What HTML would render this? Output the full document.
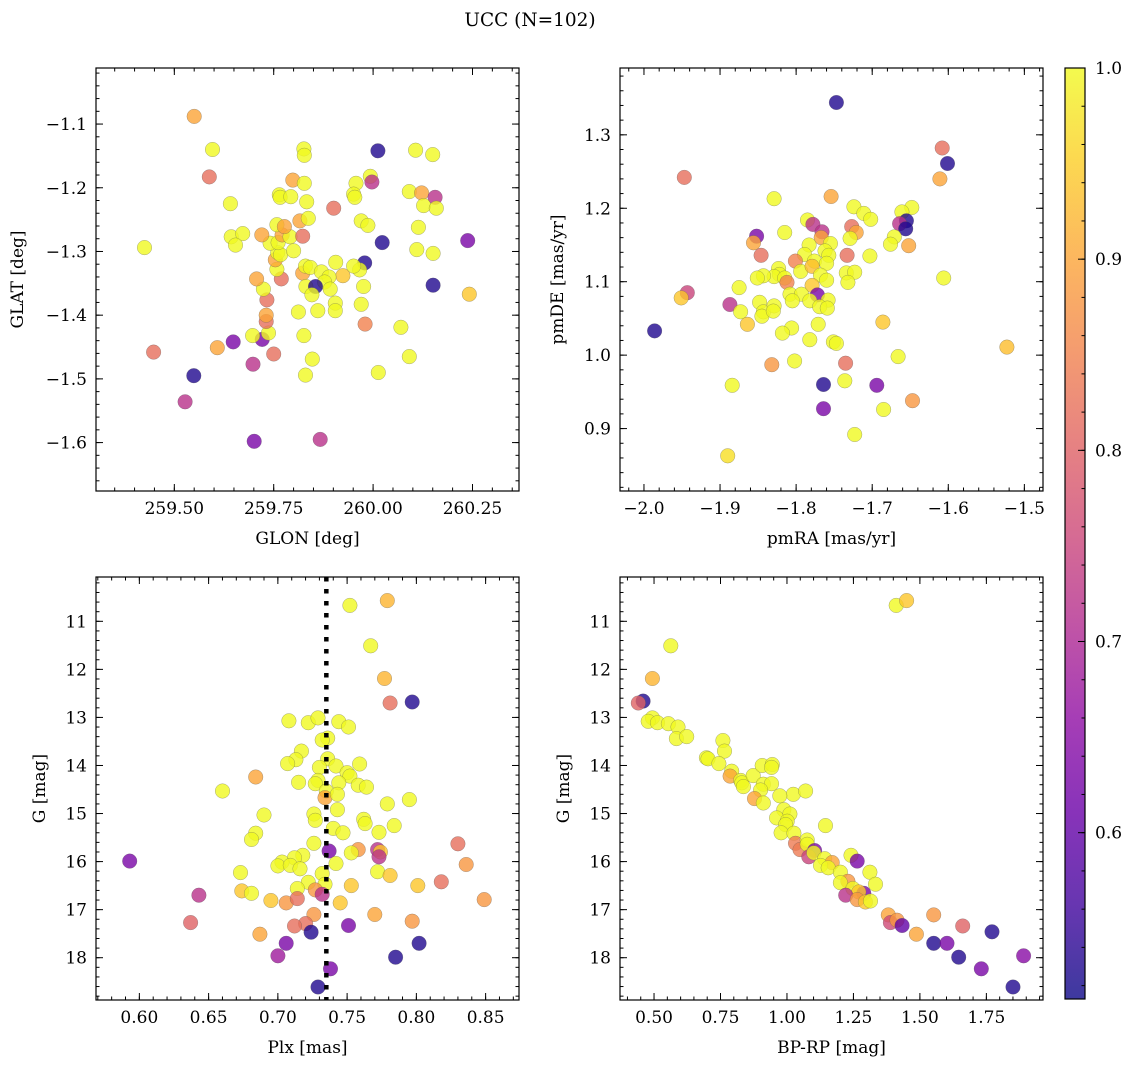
<!DOCTYPE html>
<html><head><meta charset="utf-8"><style>
html,body{margin:0;padding:0;background:#fff;}
svg{display:block;font-family:"DejaVu Serif","Liberation Serif",serif;}
</style></head><body>
<svg id="fig" width="1136" height="1067" viewBox="0 0 1136 1067" xmlns="http://www.w3.org/2000/svg">
<defs>
<linearGradient id="plasma" x1="0" y1="1" x2="0" y2="0">
<stop offset="0" stop-color="#0d0887"/><stop offset="0.1" stop-color="#41049d"/><stop offset="0.2" stop-color="#6a00a8"/><stop offset="0.3" stop-color="#8f0da4"/><stop offset="0.4" stop-color="#b12a90"/><stop offset="0.5" stop-color="#cc4778"/><stop offset="0.6" stop-color="#e16462"/><stop offset="0.7" stop-color="#f2844b"/><stop offset="0.8" stop-color="#fca636"/><stop offset="0.9" stop-color="#fcce25"/><stop offset="1" stop-color="#f0f921"/>
</linearGradient>
</defs>
<text x="530" y="26" text-anchor="middle" font-size="18.5">UCC (N=102)</text>
</svg>
<script>
// Panel 1: GLON / GLAT
const glon=[259.550,259.596,259.588,259.641,259.425,259.643,259.672,259.654,259.448,259.549,
259.527,259.648,259.608,259.701,259.867,259.698,259.750,259.721,259.697,259.737,
259.731,259.731,259.733,259.724,259.707,259.769,259.758,259.754,259.760,259.767,
259.741,259.761,259.720,259.771,259.791,259.800,259.758,259.777,259.816,259.837,
259.823,259.764,259.766,259.793,259.798,259.827,259.833,259.826,259.827,259.901,
259.957,259.951,259.954,259.993,259.997,260.012,259.970,259.987,260.023,259.979,
259.966,259.951,259.906,259.924,259.976,259.970,259.980,259.905,259.905,259.861,
259.812,259.826,259.847,259.830,260.013,260.070,260.091,259.823,259.830,259.842,
259.870,259.889,259.878,259.892,259.831,259.855,259.846,260.091,260.107,260.150,
260.122,260.156,260.127,260.159,260.114,260.110,260.151,260.151,260.238,260.242];
const glat=[-1.088,-1.140,-1.183,-1.225,-1.294,-1.277,-1.272,-1.290,-1.458,-1.495,
-1.536,-1.442,-1.451,-1.598,-1.595,-1.477,-1.461,-1.438,-1.432,-1.428,
-1.410,-1.400,-1.376,-1.359,-1.343,-1.343,-1.328,-1.313,-1.302,-1.305,
-1.287,-1.286,-1.274,-1.274,-1.277,-1.299,-1.258,-1.261,-1.252,-1.248,
-1.276,-1.211,-1.215,-1.214,-1.188,-1.193,-1.222,-1.139,-1.149,-1.232,
-1.193,-1.210,-1.215,-1.182,-1.191,-1.142,-1.252,-1.259,-1.286,-1.318,
-1.329,-1.323,-1.317,-1.338,-1.355,-1.383,-1.414,-1.381,-1.393,-1.393,
-1.395,-1.432,-1.469,-1.494,-1.490,-1.419,-1.465,-1.334,-1.323,-1.325,
-1.332,-1.340,-1.348,-1.359,-1.355,-1.355,-1.368,-1.206,-1.141,-1.148,
-1.208,-1.215,-1.228,-1.232,-1.262,-1.297,-1.303,-1.353,-1.283,-1.367];
const prob1=[.90,1,.82,1,1,1,1,1,.82,.53,
.72,.63,.90,.63,.72,.72,.82,.63,1,1,
.82,.90,.82,1,.90,.82,1,.90,1,1,
1,1,.90,.90,1,1,1,.90,.90,1,
.82,1,1,1,.90,1,1,1,1,.82,
1,1,1,1,.72,.53,1,1,.53,.53,
1,1,1,.94,1,1,.85,1,1,1,
1,1,1,1,1,1,1,.90,1,1,
1,1,1,1,1,.53,1,1,1,1,
.90,.72,1,1,1,1,1,.53,.63,.94];

// Panel 2: pmRA / pmDE
const pmra=[-1.747,-1.608,-1.601,-1.611,-1.947,-1.829,-1.754,-1.724,-1.711,-1.702,
-1.648,-1.661,-1.655,-1.664,-1.656,-1.671,-1.676,-1.652,-1.785,-1.778,
-1.766,-1.767,-1.815,-1.852,-1.856,-1.727,-1.721,-1.729,-1.783,-1.755,
-1.762,-1.757,-1.733,-1.703,-1.789,-1.846,-1.801,-1.776,-1.760,-1.794,
-1.779,-1.768,-1.760,-1.734,-1.723,-1.732,-1.823,-1.822,-1.829,-1.815,
-1.812,-1.843,-1.851,-1.779,-1.875,-1.943,-1.951,-1.808,-1.793,-1.805,
-1.772,-1.782,-1.758,-1.769,-1.759,-1.848,-1.887,-1.873,-1.843,-1.845,
-1.829,-1.830,-1.864,-1.771,-1.806,-1.818,-1.782,-1.751,-1.747,-1.686,
-1.986,-1.606,-1.523,-1.666,-1.832,-1.802,-1.735,-1.884,-1.764,-1.736,
-1.694,-1.764,-1.685,-1.647,-1.723,-1.890];
const pmde=[1.344,1.282,1.261,1.240,1.242,1.213,1.216,1.202,1.193,1.185,
1.201,1.195,1.183,1.179,1.172,1.161,1.151,1.149,1.184,1.178,
1.168,1.160,1.167,1.162,1.153,1.175,1.167,1.159,1.150,1.152,
1.142,1.136,1.136,1.135,1.137,1.136,1.128,1.128,1.125,1.114,
1.121,1.109,1.102,1.112,1.113,1.099,1.118,1.110,1.107,1.105,
1.099,1.108,1.105,1.095,1.092,1.085,1.078,1.083,1.083,1.074,
1.082,1.074,1.075,1.066,1.064,1.072,1.069,1.059,1.059,1.053,
1.067,1.060,1.042,1.042,1.037,1.030,1.021,1.018,1.016,1.045,
1.033,1.105,1.011,0.998,0.987,0.992,0.989,0.959,0.960,0.965,
0.959,0.927,0.926,0.938,0.892,0.863];
const prob2=[.53,.82,.53,.90,.82,1,.90,1,1,1,
1,1,.53,.72,.53,1,1,.90,1,.72,
.72,.90,1,.63,.90,.82,.90,1,1,1,
1,1,.82,1,1,.82,.85,1,1,1,
.93,1,1,1,1,1,1,1,1,1,
.85,1,1,.94,1,.75,.94,1,1,1,
.63,1,1,1,1,1,.72,1,1,1,
1,1,.94,1,1,1,1,1,1,.94,
.53,1,.93,1,.88,1,.82,1,.53,1,
.63,.63,1,.88,1,.97];

// Panel 3: Plx / G
const plx=[0.752,0.779,0.767,0.777,0.781,0.797,0.708,0.722,0.729,0.744,
0.751,0.736,0.732,0.717,0.713,0.707,0.736,0.730,0.742,0.759,
0.750,0.752,0.684,0.660,0.715,0.729,0.727,0.744,0.758,0.764,
0.735,0.734,0.743,0.795,0.779,0.743,0.690,0.726,0.727,0.762,
0.763,0.784,0.740,0.747,0.773,0.684,0.681,0.726,0.830,0.758,
0.772,0.774,0.773,0.753,0.737,0.593,0.718,0.712,0.703,0.700,
0.709,0.716,0.742,0.836,0.673,0.772,0.781,0.732,0.734,0.722,
0.753,0.801,0.818,0.714,0.674,0.681,0.727,0.732,0.643,0.695,
0.706,0.714,0.745,0.849,0.726,0.770,0.797,0.637,0.720,0.712,
0.724,0.687,0.751,0.706,0.802,0.700,0.785,0.738,0.729];
const gmag3=[10.67,10.57,11.51,12.19,12.70,12.68,13.07,13.11,13.01,13.09,
13.20,13.43,13.47,13.70,13.88,13.96,13.86,14.04,14.01,13.97,
14.15,14.22,14.24,14.53,14.35,14.31,14.38,14.36,14.41,14.45,
14.53,14.67,14.60,14.71,14.80,14.92,15.03,15.01,15.14,15.12,
15.21,15.25,15.31,15.40,15.39,15.41,15.54,15.62,15.63,15.75,
15.75,15.80,15.90,15.82,15.78,15.99,15.87,15.92,16.01,16.09,
16.08,16.15,16.04,16.06,16.23,16.21,16.29,16.25,16.47,16.43,
16.50,16.50,16.42,16.56,16.61,16.66,16.59,16.68,16.70,16.81,
16.86,16.77,16.86,16.79,17.10,17.10,17.24,17.27,17.29,17.34,
17.47,17.51,17.33,17.70,17.70,17.96,17.99,18.23,18.61];
const prob3=[1,.92,1,.92,.82,.53,1,1,1,1,
1,1,1,1,1,1,1,1,1,1,
1,1,.90,1,1,1,1,1,1,1,
1,.90,1,1,1,1,1,1,1,1,
1,1,1,1,1,1,1,1,.82,.88,
.72,.94,.72,1,.63,.63,1,1,1,1,
1,1,1,.88,1,1,.94,1,1,1,
.94,.94,.82,1,.94,1,.88,.72,.72,.94,
.88,.82,.94,.88,.88,.90,.88,.80,.82,.82,
.53,.90,.63,.63,.53,.68,.53,.63,.53];

// Panel 4: BP-RP / G
const bprp=[1.411,1.450,0.563,0.494,0.459,0.441,0.494,0.478,0.513,0.554,
0.590,0.584,0.623,0.759,0.765,0.697,0.703,0.744,0.792,0.786,
0.826,0.830,0.836,0.873,0.907,0.945,0.942,0.911,0.942,0.901,
0.878,0.911,1.024,1.070,0.973,0.988,1.011,0.961,1.001,0.995,
0.978,1.026,1.145,1.032,1.049,1.076,1.076,1.104,1.082,1.101,
1.241,1.264,1.142,1.170,1.126,1.155,1.201,1.312,1.333,1.229,
1.201,1.248,1.289,1.270,1.221,1.264,1.295,1.314,1.381,1.389,
1.414,1.433,1.487,1.552,1.661,1.552,1.602,1.771,1.646,1.731,
1.890,1.850];
const gmag4=[10.67,10.57,11.51,12.19,12.66,12.70,13.01,13.08,13.11,13.13,
13.20,13.44,13.40,13.48,13.70,13.84,13.86,13.96,14.12,14.22,
14.31,14.36,14.44,14.21,14.00,13.98,14.04,14.39,14.38,14.51,
14.69,14.78,14.60,14.53,14.63,14.92,15.01,15.09,15.16,15.23,
15.40,15.41,15.25,15.62,15.75,15.55,15.64,15.77,15.90,15.82,
15.87,15.99,15.94,16.02,16.08,16.13,16.22,16.22,16.47,16.41,
16.44,16.56,16.66,16.63,16.70,16.79,16.84,16.82,17.11,17.27,
17.22,17.33,17.51,17.11,17.34,17.70,17.70,17.46,17.99,18.23,
17.96,18.61];
const prob4=[1,.94,1,.92,.53,.80,1,1,1,1,
1,1,1,1,1,1,1,1,1,.90,
1,1,1,1,1,1,1,1,1,1,
.90,1,1,1,1,1,1,1,1,1,
1,1,1,.84,.84,1,1,.63,.75,1,
1,.63,1,.90,1,1,1,1,1,.88,
1,1,.63,.94,.72,.88,.94,1,.90,.76,
.88,.60,.90,.88,.80,.53,.63,.53,.53,.63,
.65,.53];

const plxLine=0.735;
const cbTicks=[0.6,0.7,0.8,0.9,1.0];
const vmin=0.513, vmax=1.0;

const NS="http://www.w3.org/2000/svg";
const svg=document.getElementById('fig');
function mk(tag,attrs,parent){const e=document.createElementNS(NS,tag);for(const k in attrs)e.setAttribute(k,attrs[k]);(parent||svg).appendChild(e);return e;}
const stops=[[13,8,135],[65,4,157],[106,0,168],[143,13,164],[177,42,144],[204,71,120],[225,100,98],[242,132,75],[252,166,54],[252,206,37],[240,249,33]];
function plasma(v){let t=(v-vmin)/(vmax-vmin);t=Math.max(0,Math.min(1,t))*10;const i=Math.min(9,Math.floor(t)),f=t-i;const a=stops[i],b=stops[i+1];return 'rgb('+[0,1,2].map(k=>Math.round(a[k]+(b[k]-a[k])*f)).join(',')+')';}
function fmt(v,d){const s=Math.abs(v).toFixed(d);return (v<-1e-9?'\u2212':'')+s;}
const FS=17;

function panel(c,xs,ys,ps){
  const g=mk('g',{});
  
  
  const sx=v=>c.L+(v-c.x0)/(c.x1-c.x0)*(c.R-c.L);
  const sy=v=>c.B-(v-c.y0)/(c.y1-c.y0)*(c.B-c.T);
  const pts=mk('g',{},g);
  
  
  for(let i=0;i<xs.length;i++){
    const p=mk('circle',{cx:sx(xs[i]).toFixed(1),cy:sy(ys[i]).toFixed(1),r:7.3,fill:plasma(ps[i]),'fill-opacity':0.8,stroke:'#555','stroke-width':0.5,'stroke-opacity':0.5},pts);
    
    
  }
  if(c.vline!==undefined){
    const l=mk('line',{x1:sx(c.vline),x2:sx(c.vline),y1:c.T,y2:c.B,stroke:'#000','stroke-width':4.5,'stroke-dasharray':'4.5,7.5'},g);
    
    
  }
  const ax=mk('g',{stroke:'#000','stroke-width':1},g);
  
  
  const lo=(a,b)=>Math.min(a,b),hi=(a,b)=>Math.max(a,b);
  for(let v=Math.ceil(lo(c.x0,c.x1)/c.xm-1e-6)*c.xm;v<=hi(c.x0,c.x1)+1e-9;v+=c.xm){const X=sx(v);mk('line',{x1:X,x2:X,y1:c.B,y2:c.B-3.5},ax);mk('line',{x1:X,x2:X,y1:c.T,y2:c.T+3.5},ax);}
  for(let v=Math.ceil(lo(c.y0,c.y1)/c.ym-1e-6)*c.ym;v<=hi(c.y0,c.y1)+1e-9;v+=c.ym){const Y=sy(v);mk('line',{x1:c.L,x2:c.L+3.5,y1:Y,y2:Y},ax);mk('line',{x1:c.R,x2:c.R-3.5,y1:Y,y2:Y},ax);}
  c.xt.forEach(v=>{const X=sx(v);mk('line',{x1:X,x2:X,y1:c.B,y2:c.B-7},ax);mk('line',{x1:X,x2:X,y1:c.T,y2:c.T+7},ax);
    const t=mk('text',{x:X,y:c.B+23,'text-anchor':'middle','font-size':FS},g);t.textContent=fmt(v,c.xd);
    });
  c.yt.forEach(v=>{const Y=sy(v);mk('line',{x1:c.L,x2:c.L+7,y1:Y,y2:Y},ax);mk('line',{x1:c.R,x2:c.R-7,y1:Y,y2:Y},ax);
    const t=mk('text',{x:c.L-9,y:Y+6,'text-anchor':'end','font-size':FS},g);t.textContent=fmt(v,c.yd);
    });
  mk('rect',{x:c.L,y:c.T,width:c.R-c.L,height:c.B-c.T,fill:'none',stroke:'#000','stroke-width':1.2},g);
  const xl=mk('text',{x:(c.L+c.R)/2,y:c.B+53,'text-anchor':'middle','font-size':FS},g);xl.textContent=c.xlab;
  
  const yx=c.ylx,yy=(c.T+c.B)/2;
  const yl=mk('text',{x:yx,y:yy,'text-anchor':'middle','font-size':FS,transform:'rotate(-90 '+yx+' '+yy+')'},g);yl.textContent=c.ylab;
  
}

panel({name:'glon-glat-panel',L:96,R:519,T:68,B:491,x0:259.303,x1:260.367,y0:-1.676,y1:-1.012,xt:[259.5,259.75,260.0,260.25],xd:2,xm:0.05,yt:[-1.6,-1.5,-1.4,-1.3,-1.2,-1.1],yd:1,ym:0.02,xlab:'GLON [deg]',ylab:'GLAT [deg]',ylx:23},glon,glat,prob1);
panel({name:'pm-panel',L:620,R:1043,T:68,B:491,x0:-2.0315,x1:-1.4755,y0:0.815,y1:1.391,xt:[-2.0,-1.9,-1.8,-1.7,-1.6,-1.5],xd:1,xm:0.02,yt:[0.9,1.0,1.1,1.2,1.3],yd:1,ym:0.02,xlab:'pmRA [mas/yr]',ylab:'pmDE [mas/yr]',ylx:563},pmra,pmde,prob2);
panel({name:'plx-g-panel',L:96,R:519,T:577,B:1000,x0:0.5687,x1:0.8741,y0:18.88,y1:10.078,xt:[0.6,0.65,0.7,0.75,0.8,0.85],xd:2,xm:0.01,yt:[11,12,13,14,15,16,17,18],yd:0,ym:0.2,xlab:'Plx [mas]',ylab:'G [mag]',ylx:45,vline:plxLine},plx,gmag3,prob3);
panel({name:'cmd-panel',L:620,R:1043,T:577,B:1000,x0:0.372,x1:1.963,y0:18.88,y1:10.078,xt:[0.5,0.75,1.0,1.25,1.5,1.75],xd:2,xm:0.05,yt:[11,12,13,14,15,16,17,18],yd:0,ym:0.2,xlab:'BP-RP [mag]',ylab:'G [mag]',ylx:569},bprp,gmag4,prob4);

// colorbar
const cb=mk('g',{});


const cT=68,cB=999,cL=1065,cR=1085;
const cy=v=>cB-(v-vmin)/(vmax-vmin)*(cB-cT);
mk('rect',{x:cL,y:cT,width:cR-cL,height:cB-cT,fill:'url(#plasma)','fill-opacity':0.8},cb);
mk('rect',{x:cL,y:cT,width:cR-cL,height:cB-cT,fill:'none',stroke:'#000','stroke-width':1.2},cb);
for(let v=0.52;v<=1.0001;v+=0.02){const Y=cy(v);mk('line',{x1:cR,x2:cR-3.5,y1:Y,y2:Y,stroke:'#000','stroke-width':1},cb);}
cbTicks.forEach(v=>{const Y=cy(v);mk('line',{x1:cR,x2:cR-7,y1:Y,y2:Y,stroke:'#000','stroke-width':1},cb);
  const t=mk('text',{x:cR+10,y:Y+6,'font-size':FS},cb);t.textContent=v.toFixed(1);
  });
</script>
</body></html>
